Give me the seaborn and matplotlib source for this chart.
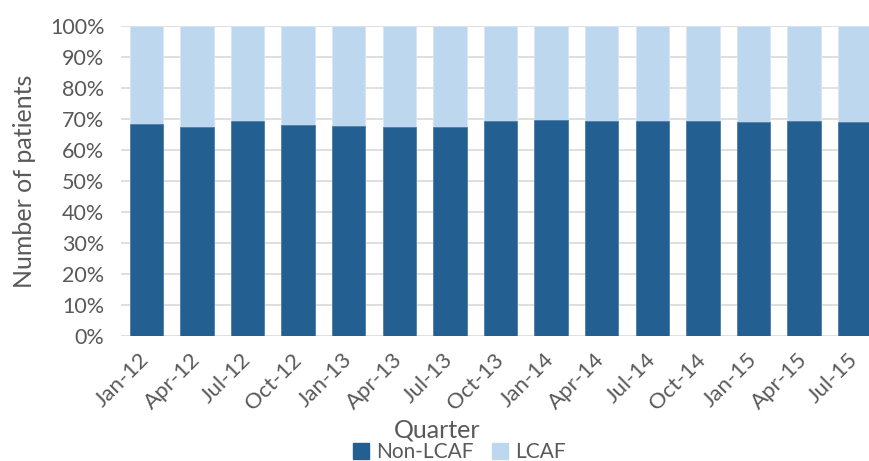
import pandas as pd
import seaborn as sns
import matplotlib.pyplot as plt
from matplotlib.lines import Line2D

# values (share of patients per quarter, %)
quarters = ["Jan-12", "Apr-12", "Jul-12", "Oct-12", "Jan-13", "Apr-13", "Jul-13", "Oct-13",
            "Jan-14", "Apr-14", "Jul-14", "Oct-14", "Jan-15", "Apr-15", "Jul-15"]
non_lcaf = [68.5, 67.4, 69.5, 68.2, 67.9, 67.4, 67.4, 69.3,
            69.6, 69.5, 69.5, 69.5, 69.1, 69.5, 69.1]
lcaf = [31.5, 32.6, 30.5, 31.8, 32.1, 32.6, 32.6, 30.7,
        30.4, 30.5, 30.5, 30.5, 30.9, 30.5, 30.9]
y_ticks = [0, 10, 20, 30, 40, 50, 60, 70, 80, 90, 100]

dark = "#245F91"
light = "#BDD7EE"
grey = "#595959"

df = pd.DataFrame({"quarter": quarters, "non_lcaf": non_lcaf, "lcaf": lcaf})
df["total"] = df["non_lcaf"] + df["lcaf"]

sns.set_style("white")
plt.rcParams["font.family"] = ["Lato", "DejaVu Sans"]

fig = plt.figure(figsize=(8.69, 4.61), dpi=100)
ax = fig.add_axes([121 / 869, 1 - 336 / 461, 759 / 869, 310 / 461])

# stacked bars: full height light bar first, dark part drawn over it
sns.barplot(data=df, x="quarter", y="total", color=light, width=0.66, ax=ax,
            edgecolor="#D6E6F5", linewidth=0.6, saturation=1)
sns.barplot(data=df, x="quarter", y="non_lcaf", color=dark, width=0.66, ax=ax,
            edgecolor="#4F7FA8", linewidth=0.6, saturation=1)

ax.set_ylim(0, 100)
ax.set_xlim(-0.5, 14.5)
ax.set_yticks(y_ticks)
ax.set_yticklabels([f"{t}%" for t in y_ticks])
ax.yaxis.grid(True, color="#D9D9D9", linewidth=1.2)
ax.set_axisbelow(True)
for s in ax.spines.values():
    s.set_visible(False)

ax.tick_params(axis="y", labelsize=15.5, colors=grey, length=0, pad=12)
ax.tick_params(axis="x", labelsize=16, colors=grey, length=0, pad=15)
for lab in ax.get_xticklabels():
    lab.set_rotation(45)
    lab.set_ha("right")
    lab.set_rotation_mode("anchor")
    lab.set_va("center")

ax.set_ylabel("Number of patients", fontsize=18, color=grey, labelpad=10)
ax.set_xlabel("")
fig.text(437 / 869, 1 - 430 / 461, "Quarter", fontsize=18, color=grey,
         ha="center", va="center")

handles = [Line2D([], [], marker="s", linestyle="", markersize=11, color=dark),
           Line2D([], [], marker="s", linestyle="", markersize=11, color=light)]
fig.legend(handles, ["Non-LCAF", "LCAF"], loc="center", bbox_to_anchor=(457 / 869, 1 - 452 / 461),
           ncol=2, frameon=False, fontsize=15, labelcolor=grey, handletextpad=0.1,
           columnspacing=0.7, borderaxespad=0, handlelength=1.2)

fig.savefig("out.png", dpi=100)
